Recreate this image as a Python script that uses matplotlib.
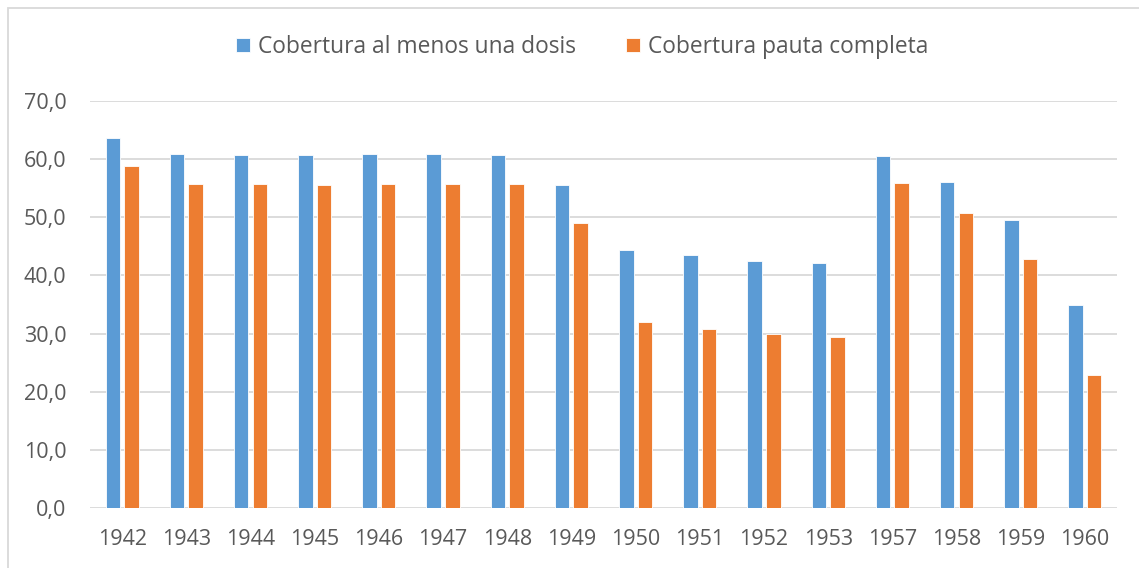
import matplotlib
matplotlib.use("Agg")
import matplotlib.pyplot as plt
from matplotlib.patches import Rectangle
import numpy as np

years = ["1942", "1943", "1944", "1945", "1946", "1947", "1948", "1949",
         "1950", "1951", "1952", "1953", "1957", "1958", "1959", "1960"]
al_menos_una = [63.6, 60.8, 60.7, 60.7, 60.8, 60.8, 60.7, 55.5,
                44.3, 43.5, 42.5, 42.1, 60.6, 56.0, 49.5, 35.0]
pauta_completa = [58.9, 55.7, 55.8, 55.6, 55.7, 55.8, 55.7, 49.0,
                  32.0, 30.8, 29.9, 29.4, 55.9, 50.7, 42.9, 22.9]
series_names = ["Cobertura al menos una dosis", "Cobertura pauta completa"]
yticks = [0, 10, 20, 30, 40, 50, 60, 70]

plt.rcParams['font.family'] = ['Open Sans', 'DejaVu Sans']

W, H = 1139, 568
fig = plt.figure(figsize=(W / 100, H / 100), dpi=100)
ax = fig.add_axes([90 / W, 1 - 508 / H, (1117 - 90) / W, (508 - 101) / H])

x = np.arange(len(years))
bw = 0.226
off = 0.145
blue = "#5B9BD5"
orange = "#ED7D31"
ax.bar(x - off, al_menos_una, bw, color=blue, edgecolor="white", linewidth=0.6,
       label=series_names[0], zorder=3)
ax.bar(x + off, pauta_completa, bw, color=orange, edgecolor="white", linewidth=0.6,
       label=series_names[1], zorder=3)

ax.set_xlim(-0.5, len(years) - 0.5)
ax.set_ylim(0, 70)
ax.set_yticks(yticks)
ax.set_yticklabels([f"{v:.1f}".replace(".", ",") for v in yticks])
ax.set_xticks(x)
ax.set_xticklabels(years)
ax.grid(axis="y", color="#D9D9D9", linewidth=1.3, zorder=0)
for s in ax.spines.values():
    s.set_visible(False)
ax.tick_params(axis="both", length=0, labelsize=15.5, colors="#595959")
ax.tick_params(axis="y", pad=17)
ax.tick_params(axis="x", pad=15)

leg = fig.legend(loc="center", bbox_to_anchor=(582 / W, 1 - 47 / H), ncol=2,
                 frameon=False, fontsize=16.4, handlelength=0.6, handleheight=0.6,
                 handletextpad=0.35, columnspacing=2.2, labelcolor="#595959")

fig.patches.append(Rectangle((8 / W, -10 / H), (1160 - 8) / W, (560 + 10) / H,
                             transform=fig.transFigure, fill=False,
                             edgecolor="#D9D9D9", linewidth=1.3))

fig.savefig("out.png", dpi=100)
